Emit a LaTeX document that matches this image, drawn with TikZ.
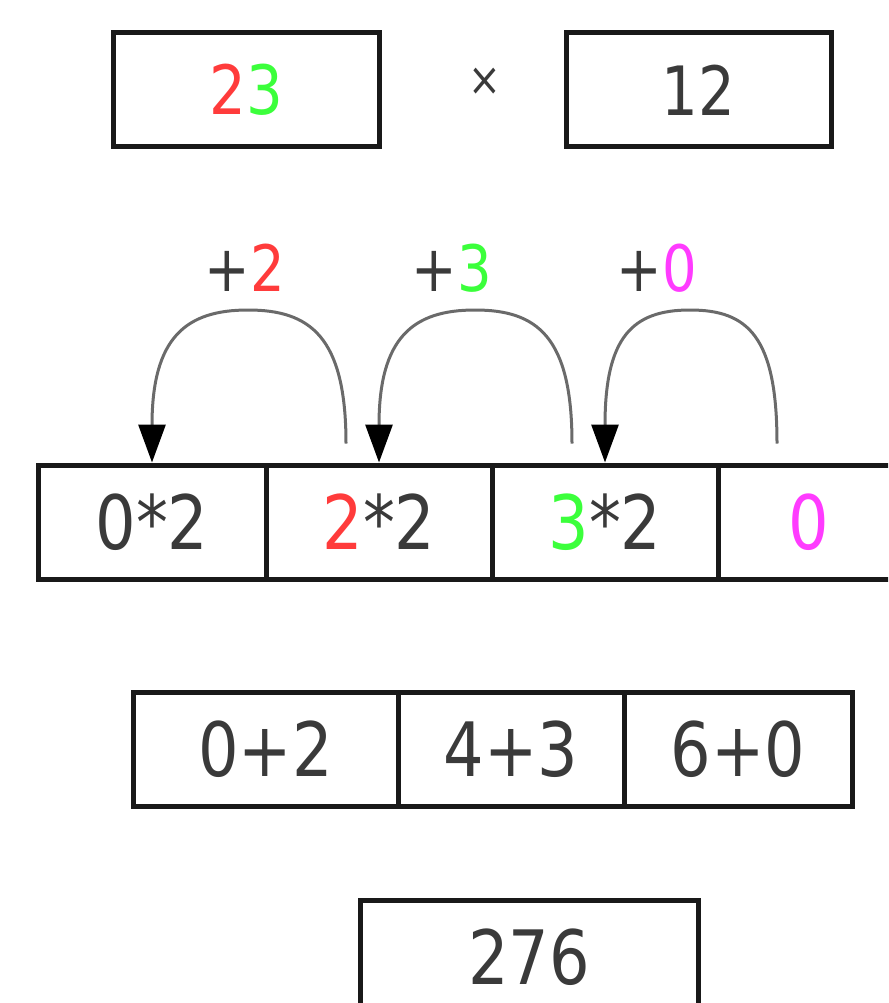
\documentclass[tikz,border=0pt]{standalone}
\usepackage{fontspec}
\setmainfont{DejaVu Sans}[FakeStretch=0.85]
\usetikzlibrary{arrows.meta,calc}
\definecolor{txt}{HTML}{3A3A3A}
\definecolor{cred}{HTML}{FF3B3B}
\definecolor{cgreen}{HTML}{3BFF3B}
\definecolor{cmag}{HTML}{FF3BFF}
\definecolor{arcgray}{HTML}{6A6A6A}
\tikzset{
  cell/.style={draw=black!90, line width=5pt, rectangle, minimum height=114pt, inner sep=0pt,
    text=txt, font=\fontsize{75}{80}\selectfont},
  toplabel/.style={text=txt, font=\fontsize{64}{70}\selectfont, inner sep=0pt},
  jump/.style={draw=arcgray, line width=3pt, -{Triangle[length=38pt,width=27pt,color=black]}}
}
\begin{document}
\begin{tikzpicture}[x=1pt,y=-1pt]
\useasboundingbox (0,0) rectangle (888,1003);
\clip (0,0) rectangle (888,1003);
% top operands
\node[cell, minimum width=266pt, font=\fontsize{68}{72}\selectfont] (a) at (246,90) {\textcolor{cred}{2}\textcolor{cgreen}{3}};
\node[text=txt, inner sep=0pt, font=\fontsize{46}{50}\selectfont] (times) at (485,82) {×};
\node[cell, minimum width=265pt, font=\fontsize{68}{72}\selectfont] (b) at (698.5,90) {12};
% labels
\node[toplabel] (l1) at (245,268) {+\textcolor{cred}{2}};
\node[toplabel] (l2) at (452,268) {+\textcolor{cgreen}{3}};
\node[toplabel] (l3) at (657,268) {+\textcolor{cmag}{0}};
% row of products
\node[cell, minimum width=228pt] (c1) at (152,522) {0*2};
\node[cell, minimum width=226pt] (c2) at (379,522) {\textcolor{cred}{2}*2};
\node[cell, minimum width=226pt] (c3) at (605,522) {\textcolor{cgreen}{3}*2};
\node[cell, minimum width=182pt] (c4) at (809,522) {\textcolor{cmag}{0}};
% arc start points and tops
\coordinate (s2) at ($(c2.north)+(-33,-19)$);
\coordinate (s3) at ($(c3.north)+(-33,-19)$);
\coordinate (s4) at ($(c4.north)+(-32,-19)$);
\coordinate (t1) at (248,310);
\coordinate (t2) at (475,310);
\coordinate (t3) at (690,310);
\draw[jump] (s2) .. controls ($(s2)+(0,-107)$) and ($(t1)+(62,0)$) .. (t1)
  .. controls ($(t1)+(-62,0)$) and ($(c1.north)+(0,-125)$) .. (c1.north);
\draw[jump] (s3) .. controls ($(s3)+(0,-107)$) and ($(t2)+(62,0)$) .. (t2)
  .. controls ($(t2)+(-62,0)$) and ($(c2.north)+(0,-125)$) .. (c2.north);
\draw[jump] (s4) .. controls ($(s4)+(0,-107)$) and ($(t3)+(58,0)$) .. (t3)
  .. controls ($(t3)+(-58,0)$) and ($(c3.north)+(0,-125)$) .. (c3.north);
% sums row
\node[cell, minimum width=265pt] (d1) at (265.5,749) {0+2};
\node[cell, minimum width=226pt] (d2) at (511,749) {4+3};
\node[cell, minimum width=228pt] (d3) at (738,749) {6+0};
% result
\node[cell, minimum width=338pt] (r) at (529,957) {276};
\end{tikzpicture}
\end{document}
